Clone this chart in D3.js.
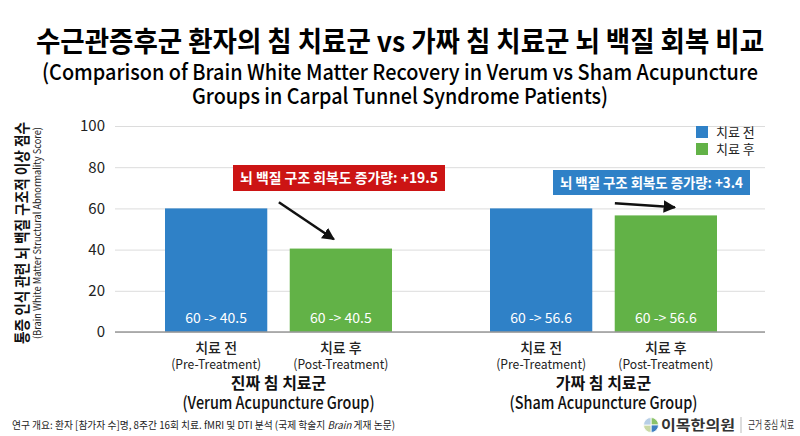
<!DOCTYPE html>
<html>
<head>
<meta charset="utf-8">
<script src="https://cdn.jsdelivr.net/npm/d3@7"></script>
<style>
  body { margin: 0; background: #fff; }
  text { font-family: "Noto Sans CJK KR", "Noto Sans", sans-serif; }
</style>
</head>
<body>
<div id="chart"></div>
<script>
// data
const groups = ['verum', 'sham'];
const groupKo = ['진짜 침 치료군', '가짜 침 치료군'];
const groupEn = ['(Verum Acupuncture Group)', '(Sham Acupuncture Group)'];
const phases = ['pre', 'post'];
const phaseKo = ['치료 전', '치료 후'];
const phaseEn = ['(Pre-Treatment)', '(Post-Treatment)'];
const verumValues = [60, 40.5];
const shamValues = [60, 56.6];
const barLabels = [['60 -> 40.5', '60 -> 40.5'], ['60 -> 56.6', '60 -> 56.6']];
const yTicks = [0, 20, 40, 60, 80, 100];
const annotTexts = ['뇌 백질 구조 회복도 증가량: +19.5', '뇌 백질 구조 회복도 증가량: +3.4'];

const W = 800, H = 436;
const colors = { pre: '#2f81c7', post: '#62b247' };
const margin = { top: 126, right: 35, bottom: 104, left: 115 };

const svg = d3.select('#chart').append('svg')
    .attr('width', W)
    .attr('height', H);

const x0 = d3.scaleBand().domain(groups).range([margin.left, W - margin.right]);
const x1 = d3.scaleBand().domain(phases).range([50, 277]).paddingInner(0.18);
const y = d3.scaleLinear().domain([0, 100]).range([H - margin.bottom, margin.top]);

const rows = groups.map((g, i) => ({
    group: g,
    values: (i === 0 ? verumValues : shamValues).map((v, j) => ({ phase: phases[j], value: v, label: barLabels[i][j] }))
}));

// titles
svg.append('text')
    .attr('x', W / 2).attr('y', 52)
    .attr('text-anchor', 'middle')
    .attr('font-size', 28).attr('font-weight', 700)
    .attr('textLength', 728).attr('lengthAdjust', 'spacingAndGlyphs')
    .text('수근관증후군 환자의 침 치료군 vs 가짜 침 치료군 뇌 백질 회복 비교');
svg.append('text')
    .attr('x', W / 2).attr('y', 80)
    .attr('text-anchor', 'middle')
    .attr('font-size', 22).attr('font-weight', 500)
    .attr('textLength', 716).attr('lengthAdjust', 'spacingAndGlyphs')
    .text('(Comparison of Brain White Matter Recovery in Verum vs Sham Acupuncture');
svg.append('text')
    .attr('x', W / 2).attr('y', 104)
    .attr('text-anchor', 'middle')
    .attr('font-size', 22).attr('font-weight', 500)
    .attr('textLength', 416).attr('lengthAdjust', 'spacingAndGlyphs')
    .text('Groups in Carpal Tunnel Syndrome Patients)');

// grid + y axis
const yAxis = svg.append('g')
    .attr('transform', `translate(${margin.left},0)`)
    .call(d3.axisLeft(y).tickValues(yTicks).tickSize(-(W - margin.left - margin.right)).tickPadding(10));
yAxis.select('.domain').remove();
yAxis.selectAll('.tick line').attr('stroke', '#dcdcdc').attr('stroke-width', 1);
yAxis.selectAll('.tick text').attr('font-size', 15).attr('fill', '#222')
    .attr('font-family', '"Noto Sans CJK KR", sans-serif');

// bars
const gGroup = svg.selectAll('.grp').data(rows).join('g')
    .attr('class', 'grp')
    .attr('transform', d => `translate(${x0(d.group)},0)`);

gGroup.selectAll('rect').data(d => d.values).join('rect')
    .attr('x', d => x1(d.phase))
    .attr('y', d => y(d.value))
    .attr('width', x1.bandwidth())
    .attr('height', d => y(0) - y(d.value))
    .attr('fill', d => colors[d.phase]);

gGroup.selectAll('text.val').data(d => d.values).join('text')
    .attr('class', 'val')
    .attr('x', d => x1(d.phase) + x1.bandwidth() / 2)
    .attr('y', y(0) - 9)
    .attr('text-anchor', 'middle')
    .attr('font-size', 14).attr('fill', '#fff')
    .text(d => d.label);

// baseline
svg.append('line')
    .attr('x1', margin.left).attr('x2', W - margin.right)
    .attr('y1', y(0)).attr('y2', y(0))
    .attr('stroke', '#999').attr('stroke-width', 1.5);

// x labels
gGroup.each(function (d, gi) {
    const g = d3.select(this);
    phases.forEach((p, j) => {
        const cx = x1(p) + x1.bandwidth() / 2;
        g.append('text').attr('x', cx).attr('y', 353)
            .attr('text-anchor', 'middle').attr('font-size', 14).attr('font-weight', 500).attr('fill', '#222')
            .text(phaseKo[j]);
        g.append('text').attr('x', cx).attr('y', 369)
            .attr('text-anchor', 'middle').attr('font-size', 13).attr('fill', '#222')
            .attr('textLength', j === 0 ? 90 : 95).attr('lengthAdjust', 'spacingAndGlyphs')
            .text(phaseEn[j]);
    });
    const gc = (x1(phases[0]) + x1(phases[1]) + x1.bandwidth()) / 2;
    g.append('text').attr('x', gc).attr('y', 389)
        .attr('text-anchor', 'middle').attr('font-size', 16).attr('font-weight', 700).attr('fill', '#111')
        .text(groupKo[gi]);
    g.append('text').attr('x', gc).attr('y', 409)
        .attr('text-anchor', 'middle').attr('font-size', 17).attr('font-weight', 500).attr('fill', '#111')
        .attr('textLength', gi === 0 ? 192 : 188).attr('lengthAdjust', 'spacingAndGlyphs')
        .text(groupEn[gi]);
});

// y axis title
const yMid = (y(0) + y(100)) / 2 + 4;
svg.append('text')
    .attr('transform', `translate(28,${yMid}) rotate(-90)`)
    .attr('text-anchor', 'middle').attr('font-size', 15.5).attr('font-weight', 700).attr('fill', '#111')
    .attr('textLength', 222).attr('lengthAdjust', 'spacingAndGlyphs')
    .text('통증 인식 관련 뇌 백질 구조적 이상 점수');
svg.append('text')
    .attr('transform', `translate(41,${yMid}) rotate(-90)`)
    .attr('text-anchor', 'middle').attr('font-size', 10.5).attr('fill', '#222')
    .attr('textLength', 212).attr('lengthAdjust', 'spacingAndGlyphs')
    .text('(Brain White Matter Structural Abnormality Score)');

// legend
const legend = svg.append('g').attr('transform', 'translate(696,126)');
phases.forEach((p, i) => {
    legend.append('rect').attr('x', 0).attr('y', i * 17).attr('width', 12).attr('height', 12).attr('fill', colors[p]);
    legend.append('text').attr('x', 20).attr('y', i * 17 + 11)
        .attr('font-size', 13).attr('fill', '#222').text(phaseKo[i]);
});

// annotations: arrows anchored to bars through the scales
svg.append('defs').append('marker')
    .attr('id', 'ah').attr('viewBox', '0 0 10 10')
    .attr('refX', 9).attr('refY', 5)
    .attr('markerWidth', 5).attr('markerHeight', 5)
    .attr('orient', 'auto')
    .append('path').attr('d', 'M0,0 L10,5 L0,10 z').attr('fill', '#111');

const annots = [
    { group: 'verum', box: [233, 165, 212, 26], fill: '#cc1414', from: [-62, 63], to: [-7, 45] },
    { group: 'sham', box: [553, 170, 197, 25], fill: '#2f81c7', from: [-51, 62.5], to: [9, 60.5] }
];
annots.forEach((a, i) => {
    const px = x0(a.group) + x1('post') + x1.bandwidth() / 2;
    svg.append('rect')
        .attr('x', a.box[0]).attr('y', a.box[1]).attr('width', a.box[2]).attr('height', a.box[3])
        .attr('fill', a.fill);
    svg.append('text')
        .attr('x', a.box[0] + a.box[2] / 2).attr('y', a.box[1] + a.box[3] / 2 + 5)
        .attr('text-anchor', 'middle').attr('font-size', 14).attr('font-weight', 700).attr('fill', '#fff')
        .attr('textLength', a.box[2] - 14).attr('lengthAdjust', 'spacingAndGlyphs')
        .text(annotTexts[i]);
    svg.append('line')
        .attr('x1', px + a.from[0]).attr('y1', y(a.from[1]))
        .attr('x2', px + a.to[0]).attr('y2', y(a.to[1]))
        .attr('stroke', '#111').attr('stroke-width', 2.5)
        .attr('marker-end', 'url(#ah)');
});

// footnote
const foot = svg.append('text').attr('x', 12).attr('y', 429)
    .attr('font-size', 10.5).attr('fill', '#222')
    .attr('textLength', 383).attr('lengthAdjust', 'spacingAndGlyphs');
foot.append('tspan').text('연구 개요: 환자 [참가자 수]명, 8주간 16회 치료. fMRI 및 DTI 분석 (국제 학술지 ');
foot.append('tspan').attr('font-style', 'italic').text('Brain');
foot.append('tspan').text(' 게재 논문)');

// logo
const logo = svg.append('g').attr('transform', 'translate(651,425)');
const pie = d3.pie().sort(null)([1, 1, 1, 1]);
const arc = d3.arc().innerRadius(0).outerRadius(7.5);
logo.selectAll('path').data(pie).join('path')
    .attr('d', arc)
    .attr('fill', (d, i) => ['#8cc36a', '#3f7fc0', '#c9d9a6', '#b7cfe6'][i])
    .attr('stroke', '#fff').attr('stroke-width', 0.8);
svg.append('text').attr('x', 661).attr('y', 430)
    .attr('font-size', 14).attr('font-weight', 700).attr('fill', '#333')
    .attr('textLength', 74).attr('lengthAdjust', 'spacingAndGlyphs')
    .text('이목한의원');
svg.append('line').attr('x1', 741).attr('x2', 741).attr('y1', 417).attr('y2', 433)
    .attr('stroke', '#bbb');
svg.append('text').attr('x', 748).attr('y', 429)
    .attr('font-size', 11).attr('fill', '#333')
    .attr('textLength', 46).attr('lengthAdjust', 'spacingAndGlyphs')
    .text('근거 중심 치료');
</script>
</body>
</html>
